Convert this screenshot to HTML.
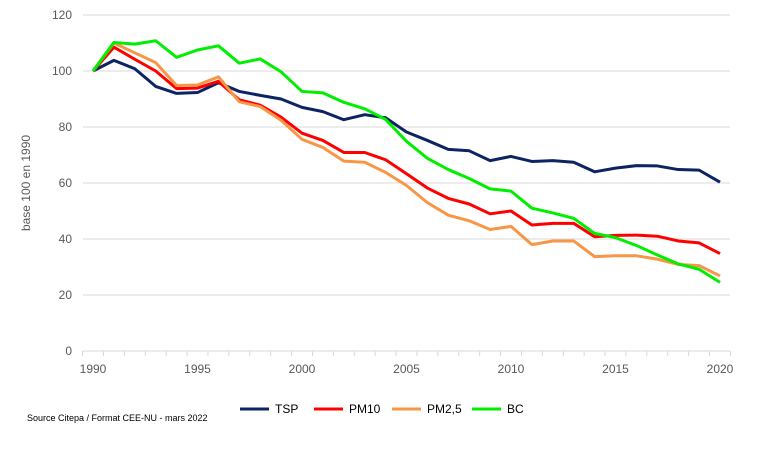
<!DOCTYPE html>
<html><head><meta charset="utf-8"><style>
body{margin:0;background:#fff;font-family:"Liberation Sans",sans-serif}
svg text{font-family:"Liberation Sans",sans-serif}
</style></head><body>
<svg width="762" height="444" id="c"></svg>
<script>
const years=[];for(let y=1990;y<=2020;y++)years.push(y);
const tsp=[100,103.8,100.8,94.5,92,92.3,95.8,92.7,91.3,90,87,85.5,82.6,84.4,83.3,78.2,75.2,72,71.5,68,69.5,67.7,68,67.4,64,65.3,66.2,66.1,64.8,64.6,60.3];
const pm10=[100,108.5,104.2,100,93.7,93.9,96.3,89.7,87.8,83.5,77.8,75.2,70.9,70.9,68.3,63.3,58.2,54.5,52.5,49,50,45,45.6,45.6,40.8,41.3,41.4,41,39.3,38.6,34.8];
const pm25=[100,110,106.5,103,94.8,95,97.9,89,87.3,82.4,75.6,72.7,67.8,67.4,63.8,59.1,53,48.5,46.5,43.4,44.5,38,39.3,39.3,33.7,34,34,32.8,30.9,30.5,26.8];
const bc=[100,110.2,109.6,110.8,104.9,107.5,109,102.8,104.3,99.7,92.7,92.2,88.8,86.5,82.7,74.9,68.8,64.8,61.6,57.9,57.1,51,49.3,47.4,42,40.5,37.7,34.3,31.1,29.2,24.5];
const yTicks=[0,20,40,60,80,100,120];
const xTicks=[1990,1995,2000,2005,2010,2015,2020];
const seriesNames=["TSP","PM10","PM2,5","BC"];
const seriesColors=["#0c2461","#ff0000","#f79646","#00ee00"];
const seriesData=[tsp,pm10,pm25,bc];
const X=y=>93+(y-1990)*20.9, Y=v=>351-v*2.8;
const svg=document.getElementById('c');const NS='http://www.w3.org/2000/svg';
function mk(t,a,p){const e=document.createElementNS(NS,t);for(const k in a)e.setAttribute(k,a[k]);(p||svg).appendChild(e);return e;}
yTicks.forEach(v=>{
 if(v>0){const g=mk('line',{x1:83,x2:730,y1:Y(v),y2:Y(v),stroke:'#d9d9d9','stroke-width':1});
 
 }
 const t=mk('text',{x:72,y:Y(v)+4,'text-anchor':'end','font-size':12,fill:'#595959'});t.textContent=v;
 
 
});
const ax=mk('line',{x1:83,x2:730,y1:351,y2:351,stroke:'#d9d9d9','stroke-width':1});


for(let y=1989.5;y<=2020.6;y++){mk('line',{x1:X(y),x2:X(y),y1:351,y2:356,stroke:'#d9d9d9'});}
xTicks.forEach(y=>{const t=mk('text',{x:X(y),y:373,'text-anchor':'middle','font-size':12,fill:'#595959'});t.textContent=y;
 
 });
const yt=mk('text',{transform:'translate(30,183) rotate(-90)','text-anchor':'middle','font-size':12,fill:'#595959'});yt.textContent='base 100 en 1990';


seriesData.forEach((d,i)=>{
 const p=mk('polyline',{points:d.map((v,j)=>X(years[j])+','+Y(v)).join(' '),fill:'none',stroke:seriesColors[i],'stroke-width':3,'stroke-linejoin':'round'});
 
 
});
const lx=[240,314,392,472];
seriesNames.forEach((n,i)=>{
 const l=mk('line',{x1:lx[i],x2:lx[i]+29,y1:409,y2:409,stroke:seriesColors[i],'stroke-width':3});
 
 
 const t=mk('text',{x:lx[i]+35,y:413,'font-size':12,fill:'#000'});t.textContent=n;
 
 
});
const s=mk('text',{x:27,y:421,'font-size':9,fill:'#000'});s.textContent='Source Citepa / Format CEE-NU - mars 2022';


</script>
</body></html>
